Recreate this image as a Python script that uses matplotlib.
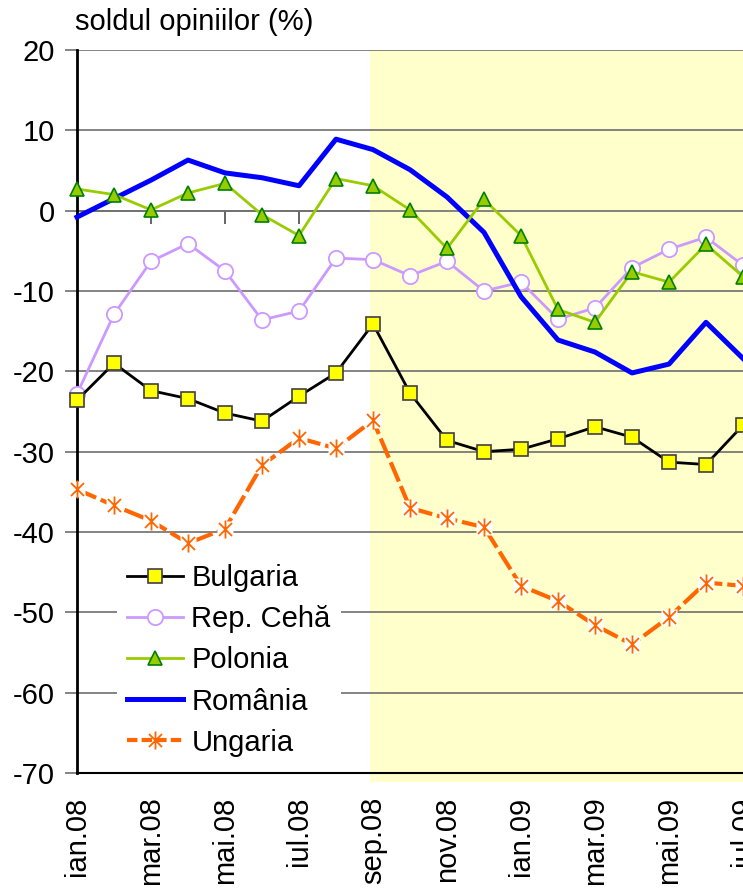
import matplotlib
matplotlib.use("Agg")
import matplotlib.pyplot as plt
from matplotlib.patches import Rectangle
from matplotlib.path import Path
from matplotlib.lines import Line2D

plt.rcParams['font.family'] = ['Liberation Sans', 'DejaVu Sans']

months = ["ian.08", "feb.08", "mar.08", "apr.08", "mai.08", "iun.08", "iul.08", "aug.08",
          "sep.08", "oct.08", "nov.08", "dec.08", "ian.09", "feb.09", "mar.09", "apr.09",
          "mai.09", "iun.09", "iul.09"]

bulgaria = [-23.6, -19.0, -22.4, -23.4, -25.2, -26.2, -23.1, -20.2, -14.1, -22.7,
            -28.6, -30.0, -29.7, -28.4, -26.9, -28.2, -31.3, -31.6, -26.7]
cehia = [-22.8, -12.9, -6.3, -4.1, -7.5, -13.6, -12.5, -5.9, -6.1, -8.1,
         -6.3, -10.0, -8.9, -13.5, -12.1, -7.1, -4.8, -3.3, -6.8]
polonia = [2.7, 2.0, 0.1, 2.2, 3.4, -0.5, -3.1, 4.0, 3.1, 0.1,
           -4.7, 1.4, -3.1, -12.3, -13.9, -7.6, -8.9, -4.2, -8.2]
romania = [-0.8, 1.5, 3.8, 6.3, 4.7, 4.1, 3.1, 8.9, 7.6, 5.1,
           1.7, -2.7, -10.7, -16.1, -17.6, -20.2, -19.1, -13.9, -18.4]
ungaria = [-34.7, -36.7, -38.6, -41.4, -39.6, -31.7, -28.3, -29.6, -26.1, -37.0,
           -38.3, -39.4, -46.7, -48.6, -51.6, -54.0, -50.6, -46.3, -46.7]

labels = ["Bulgaria", "Rep. Cehă", "Polonia", "România", "Ungaria"]
yticks = list(range(-70, 21, 10))

FS = 21
W, H = 743, 888
fig = plt.figure(figsize=(W / 100, H / 100), dpi=100)
ax = fig.add_axes([77 / W, 1 - 773 / H, 1 - 77 / W, (773 - 50) / H])

x = list(range(len(months)))
ax.set_xlim(0, len(months) - 1)
ax.set_ylim(-70, 20)

# shaded period (sep.08 onwards)
ax.add_patch(Rectangle((7.92, -71.1), 11, 91.1, transform=ax.transData,
                       facecolor='#FFFFCC', edgecolor='none', zorder=0.2, clip_on=False))

ax.set_axisbelow(True)
ax.set_yticks(yticks)
ax.yaxis.grid(True, color='#6e6e6e', linewidth=1.2)
ax.tick_params(axis='y', length=9, width=1.2, color='#6e6e6e', labelsize=FS, pad=7)
ax.set_yticklabels([str(v) for v in yticks])

ax.set_xticks(x[::2])
ax.set_xticklabels(months[::2], rotation=90, fontsize=FS, va='top', ha='center')
ax.tick_params(axis='x', length=0, pad=17)

for s in ['top', 'right']:
    ax.spines[s].set_visible(False)
ax.spines['left'].set_color('black')
ax.spines['left'].set_linewidth(2)
ax.spines['bottom'].set_color('black')
ax.spines['bottom'].set_linewidth(1.5)

# zero line with category ticks
sec = ax.secondary_xaxis(70 / 90)
sec.set_alignment('bottom')
sec.set_xticks(x[::2])
sec.set_xticklabels([])
sec.tick_params(axis='x', direction='out', length=9, width=1.2, color='#4a4a4a')
sec.spines['bottom'].set_color('#6e6e6e')
sec.spines['bottom'].set_linewidth(1.2)

# series
ax.plot(x, bulgaria, color='black', lw=2, marker='s', ms=10,
        mfc='#FFFF00', mec='#404040', mew=1.2, zorder=4, clip_on=False)
ax.plot(x, cehia, color='#CC99FF', lw=2, marker='o', ms=11,
        mfc='white', mec='#CC99FF', mew=1.3, zorder=3, clip_on=False)
ax.plot(x, polonia, color='#99CC00', lw=2, marker='^', ms=10,
        mfc='#99CC00', mec='#008000', mew=1.2, zorder=3.5, clip_on=False)
ax.plot(x, romania, color='#0000FF', lw=3.6, zorder=3.2, clip_on=False)

ast = Path([(0, -1), (0, 1), (-0.72, -0.72), (0.72, 0.72), (-0.72, 0.72), (0.72, -0.72)],
           [Path.MOVETO, Path.LINETO] * 3)
ax.plot(x, ungaria, color='#FF6600', lw=3, dashes=(5, 1.2), zorder=4.5, clip_on=False)
ax.plot(x, ungaria, ls='none', marker='s', ms=12, mfc='white', mec='none',
        zorder=4.6, clip_on=False)
ax.plot(x, ungaria, ls='none', marker=ast, ms=13, mfc='none', mec='#FF6600', mew=1.3,
        zorder=4.7, clip_on=False)

handles = [
    Line2D([], [], color='black', lw=2, marker='s', ms=10, mfc='#FFFF00', mec='#404040', mew=1.2),
    Line2D([], [], color='#CC99FF', lw=2, marker='o', ms=11, mfc='white', mec='#CC99FF', mew=1.3),
    Line2D([], [], color='#99CC00', lw=2, marker='^', ms=10, mfc='#99CC00', mec='#008000', mew=1.2),
    Line2D([], [], color='#0000FF', lw=3.6),
    Line2D([], [], color='#FF6600', lw=3, dashes=(2.5, 1.0), marker=ast, ms=13,
           mfc='none', mec='#FF6600', mew=1.3),
]
leg = ax.legend(handles, labels, loc='upper left', bbox_to_anchor=(117 / W, 1 - 554 / H),
                bbox_transform=fig.transFigure, fontsize=FS, frameon=True, fancybox=False,
                framealpha=1, facecolor='white', edgecolor='none', handlelength=1.9,
                handletextpad=0.3, labelspacing=0.45, borderpad=0.35, borderaxespad=0)
leg.set_zorder(6)

fig.text(75 / W, 1 - 22 / H, "soldul opiniilor (%)", fontsize=FS, va='center', ha='left')

fig.savefig("out.png", dpi=100)
